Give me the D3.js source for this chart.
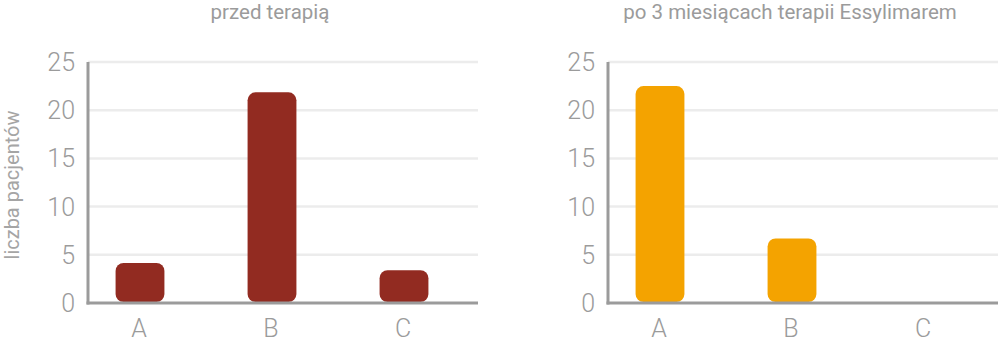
<!DOCTYPE html>
<head>
<meta charset="utf-8">
<script src="https://d3js.org/d3.v7.min.js"></script>
<style>
  body { margin: 0; background: #fff; }
</style>
</head>
<body>
<svg width="998" height="340" font-family="Roboto, sans-serif" font-weight="300"></svg>
<script>

const categories = ["A", "B", "C"];
const yTicks = [0, 5, 10, 15, 20, 25];
const beforeValues = [4.15, 21.85, 3.4];
const afterValues = [22.5, 6.7, 0];
const titles = ["przed terapią", "po 3 miesiącach terapii Essylimarem"];
const colors = ["#922b21", "#f4a300"];

let svg = d3.select("svg");

let y = d3.scaleLinear()
    .domain([0, 25])
    .range([303, 62]);

function panel(offset, values, title, color) {
  let g = svg.append("g").attr("transform", "translate(" + offset + ",0)");

  let x = d3.scaleBand()
      .domain(categories)
      .range([74, 470])
      .paddingInner(0.63)
      .paddingOuter(0.315);

  // grid
  g.append("g")
    .selectAll("line")
    .data(yTicks.slice(1))
    .enter().append("line")
      .attr("x1", 88)
      .attr("x2", 478)
      .attr("y1", y)
      .attr("y2", y)
      .attr("stroke", "#ececec")
      .attr("stroke-width", 2.5);

  // bars
  g.append("g")
    .selectAll("rect")
    .data(values.map(function(v, i) { return { key: categories[i], value: v }; }).filter(function(d) { return d.value > 0; }))
    .enter().append("rect")
      .attr("x", function(d) { return x(d.key); })
      .attr("width", x.bandwidth())
      .attr("y", function(d) { return y(d.value); })
      .attr("height", function(d) { return y(0) - y(d.value) - 1; })
      .attr("rx", 8)
      .attr("fill", color);

  // axes lines
  g.append("line")
      .attr("x1", 88).attr("x2", 88)
      .attr("y1", 62).attr("y2", 304.5)
      .attr("stroke", "#9b9b9b").attr("stroke-width", 3);
  g.append("line")
      .attr("x1", 86.5).attr("x2", 478)
      .attr("y1", 303).attr("y2", 303)
      .attr("stroke", "#9b9b9b").attr("stroke-width", 3);

  // y tick labels
  g.append("g")
    .selectAll("text")
    .data(yTicks)
    .enter().append("text")
      .attr("x", 75)
      .attr("y", y)
      .attr("dy", "0.36em")
      .attr("text-anchor", "end")
      .attr("font-size", 25)
      .attr("fill", "#9b9b9b")
      .text(function(d) { return d; });

  // x labels
  g.append("g")
    .selectAll("text")
    .data(categories)
    .enter().append("text")
      .attr("x", function(d) { return x(d) + x.bandwidth() / 2 - 1; })
      .attr("y", 337)
      .attr("text-anchor", "middle")
      .attr("font-size", 25)
      .attr("fill", "#9b9b9b")
      .text(function(d) { return d; });

  g.append("text")
      .attr("x", 270)
      .attr("y", 19)
      .attr("text-anchor", "middle")
      .attr("font-size", 20.5)
      .attr("font-weight", 400)
      .attr("fill", "#9b9b9b")
      .text(title);
}

panel(0, beforeValues, titles[0], colors[0]);
panel(520, afterValues, titles[1], colors[1]);

svg.append("text")
    .attr("transform", "translate(19,185)rotate(-90)")
    .attr("text-anchor", "middle")
    .attr("font-size", 20)
    .attr("font-weight", 400)
    .attr("fill", "#a5a5a5")
    .text("liczba pacjentów");

</script>
</body>
